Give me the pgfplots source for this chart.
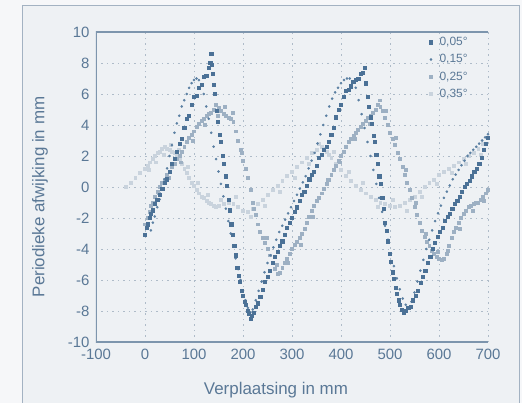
\documentclass[border=0pt]{standalone}
\usepackage{fontspec}
\setmainfont{Liberation Sans}
\usepackage{pgfplots}
\pgfplotsset{compat=1.18}
\definecolor{bgin}{HTML}{EEF1F4}
\definecolor{bgout}{HTML}{F6F7F9}
\definecolor{framec}{HTML}{A3B2C2}
\definecolor{axc}{HTML}{7D95AD}
\definecolor{txt}{HTML}{5A7896}
\definecolor{gridc}{HTML}{AEBBC8}
\definecolor{cA}{HTML}{4B7196}
\definecolor{cB}{HTML}{5A7FA2}
\definecolor{cC}{HTML}{9DB0C3}
\definecolor{cD}{HTML}{C9D3DD}
\begin{document}
\begin{tikzpicture}
\fill[bgout] (-96bp,-61bp) rectangle (426bp,342bp);
\path[use as bounding box] (-96bp,-61bp) rectangle (426bp,342bp);
\filldraw[fill=bgin, draw=framec, line width=1bp] (-73bp,-70bp) rectangle (423bp,336bp);
\begin{axis}[
  at={(0,0)}, anchor=south west, scale only axis,
  width=392bp, height=310bp,
  xmin=-100, xmax=700, ymin=-10, ymax=10,
  xtick={-100,0,...,700}, ytick={-10,-8,...,10},
  axis line style={draw=none},
  major tick length=0pt,
  grid=major,
  major grid style={gridc, line width=0.9bp, dash pattern=on 1.5bp off 4bp},
  tick label style={font=\fontsize{15}{18}\selectfont, text=txt},
  /pgf/number format/assume math mode=true,
  yticklabel style={xshift=-3bp},
  xticklabel style={yshift=-4bp},
  xlabel={Verplaatsing in mm},
  ylabel={Periodieke afwijking in mm},
  label style={font=\fontsize{17}{20}\selectfont, text=txt},
  xlabel style={at={(axis description cs:0.459,-0.155)}, anchor=center},
  ylabel style={at={(axis description cs:-0.143,0.468)}, anchor=center},
  legend style={at={(axis description cs:0.85,0.99)}, anchor=north west, draw=none, fill=none, font=\fontsize{12}{14}\selectfont, text=txt, row sep=3.5bp, column sep=5bp, inner sep=0pt},
  legend cell align=left,
  reverse legend,
  clip mode=global,
]
\addplot[only marks, mark=square*, mark size=1.5pt, color=cD] coordinates {
(-40,0.0)(-30,0.3)(-20,0.6)(-10,0.9)(0,1.2)(5,1.4)(10,1.6)(15,1.8)(20,2.0)(25,2.2)(30,2.3)(35,2.5)(40,2.6)(45,2.5)(50,2.4)(55,2.3)(60,2.2)(65,2.0)(70,1.8)(75,1.5)(80,1.2)(85,0.9)(90,0.6)(95,0.3)(100,0.1)(105,-0.2)(110,-0.4)(115,-0.6)(120,-0.7)(125,-0.9)(130,-1.0)(135,-1.1)(140,-1.2)(145,-1.3)(150,-1.2)(160,-1.1)(170,-1.0)(180,-1.1)(190,-1.3)(200,-1.5)(210,-1.6)(220,-1.4)(230,-1.1)(240,-0.8)(250,-0.5)(260,-0.2)(270,0.1)(280,0.4)(290,0.7)(300,1.0)(310,1.3)(320,1.6)(330,1.9)(340,2.2)(350,2.4)(360,2.6)(365,2.5)(370,2.3)(375,2.1)(380,1.9)(390,1.5)(400,1.1)(410,0.7)(420,0.4)(430,0.1)(440,-0.2)(450,-0.4)(460,-0.6)(470,-0.8)(480,-1.0)(490,-1.1)(500,-1.2)(510,-1.3)(520,-1.2)(530,-1.0)(540,-0.8)(550,-0.6)(560,-0.3)(570,0.0)(580,0.3)(590,0.5)(600,0.8)(610,1.0)(620,1.2)(630,1.4)(640,1.6)(650,1.8)(660,2.0)(670,2.2)(680,2.5)(690,2.8)(700,3.2)
(8,1.1)(22,1.6)(38,2.1)(52,2.7)(68,2.4)(88,1.3)(108,0.3)(128,-0.5)(155,-0.8)(185,-0.6)(215,-1.9)(245,-1.2)(275,-0.3)(305,0.6)(335,1.5)(355,2.8)(385,2.3)(415,1.0)(445,0.3)(475,-1.3)(505,-0.8)(535,-1.5)(565,-0.6)(595,0.2)(625,0.9)(655,1.5)(685,2.1)
};
\addlegendentry{0,35°}
\addplot[only marks, mark=square*, mark size=1.5pt, color=cC] coordinates {
(0,-2.4)(5,-2.0)(10,-1.6)(15,-1.0)(20,-0.6)(25,-0.3)(30,0.0)(35,0.3)(40,0.5)(45,0.8)(50,1.0)(55,1.3)(60,1.5)(65,1.8)(70,2.0)(75,2.3)(80,2.6)(85,2.9)(90,3.2)(95,3.4)(100,3.6)(105,3.9)(110,4.1)(115,4.3)(120,4.4)(125,4.6)(130,4.7)(135,4.8)(140,5.0)(145,5.3)(150,5.1)(155,4.9)(160,4.7)(165,4.6)(170,4.5)(175,4.4)(180,4.2)(185,3.6)(190,3.0)(195,2.4)(200,1.7)(205,1.2)(210,0.6)(215,-0.2)(220,-1.0)(225,-1.8)(230,-2.4)(235,-2.9)(240,-3.3)(245,-3.6)(250,-4.0)(255,-4.4)(260,-4.9)(265,-5.3)(270,-5.6)(275,-5.5)(280,-5.2)(285,-4.9)(290,-4.6)(295,-4.3)(300,-4.0)(305,-3.7)(310,-3.5)(315,-3.3)(320,-3.0)(325,-2.7)(330,-2.3)(335,-1.9)(340,-1.5)(345,-1.2)(350,-0.9)(355,-0.7)(360,-0.4)(365,-0.1)(370,0.2)(375,0.5)(380,0.8)(385,1.1)(390,1.4)(395,1.7)(400,2.0)(405,2.3)(410,2.6)(415,2.9)(420,3.1)(425,3.3)(430,3.5)(435,3.7)(440,3.9)(445,4.1)(450,4.3)(455,4.5)(460,4.6)(465,4.8)(470,5.0)(475,5.3)(480,5.2)(485,4.9)(490,4.5)(495,4.0)(500,3.5)(505,3.1)(510,2.7)(515,2.2)(520,1.8)(525,1.3)(530,0.8)(535,0.3)(540,-0.2)(545,-0.7)(550,-1.3)(555,-1.8)(560,-2.3)(565,-2.8)(570,-3.2)(575,-3.5)(580,-3.8)(585,-4.1)(590,-4.3)(595,-4.5)(600,-4.6)(605,-4.7)(610,-4.6)(615,-4.3)(620,-3.8)(625,-3.3)(630,-2.9)(635,-2.6)(640,-2.3)(645,-2.0)(650,-1.7)(655,-1.5)(660,-1.3)(665,-1.2)(670,-1.1)(675,-1.0)(680,-1.0)(685,-0.8)(690,-0.6)(695,-0.4)(700,-0.2)
(12,-1.2)(28,-0.4)(48,0.6)(72,1.6)(98,3.0)(122,4.0)(148,4.6)(162,5.2)(178,4.8)(198,2.2)(222,-1.4)(248,-3.3)(268,-5.0)(292,-4.9)(318,-3.7)(342,-1.9)(372,0.5)(398,1.6)(428,3.1)(458,4.1)(478,5.6)(492,4.9)(512,3.2)(532,1.1)(552,-1.0)(572,-3.0)(598,-4.2)(618,-4.1)(642,-2.7)(668,-1.5)(692,-0.9)
};
\addlegendentry{0,25°}
\addplot[only marks, mark=*, mark size=1.1pt, color=cB] coordinates {
(12,-2.8)(16,-2.3)(20,-1.9)(25,-1.3)(30,-0.8)(35,-0.1)(40,0.5)(45,1.2)(50,2.0)(55,2.7)(60,3.5)(65,4.1)(70,4.6)(75,5.2)(80,5.6)(85,6.0)(90,6.4)(95,6.7)(100,6.9)(105,7.0)(110,6.9)(115,6.6)(120,6.0)(125,5.2)(130,4.4)(135,3.5)(140,2.6)(145,1.8)(150,1.0)(155,0.2)(160,-0.6)(165,-1.4)(170,-2.2)(175,-3.0)(180,-3.8)(185,-4.6)(190,-5.3)(195,-6.0)(200,-6.7)(205,-7.3)(210,-7.8)(215,-8.1)(220,-7.9)(226,-7.3)(232,-6.7)(238,-6.1)(244,-5.5)(250,-4.9)(256,-4.4)(262,-3.9)(268,-3.4)(274,-2.9)(280,-2.5)(286,-2.1)(292,-1.7)(298,-1.3)(304,-0.9)(310,-0.5)(316,-0.1)(322,0.3)(328,0.7)(334,1.2)(340,1.7)(346,2.2)(352,2.8)(358,3.4)(364,4.0)(370,4.6)(376,5.2)(382,5.7)(388,6.1)(394,6.4)(400,6.7)(406,6.9)(412,7.0)(418,7.0)(424,6.8)(430,6.4)(436,5.6)(442,4.7)(448,3.8)(454,2.9)(460,2.0)(466,1.1)(472,0.2)(478,-0.7)(484,-1.6)(490,-2.5)(496,-3.4)(502,-4.3)(508,-5.1)(514,-5.9)(520,-6.6)(526,-7.2)(532,-7.6)(538,-7.8)(544,-7.4)(550,-6.8)(556,-6.1)(562,-5.4)(568,-4.7)(574,-4.0)(580,-3.4)(586,-2.8)(592,-2.2)(598,-1.7)(604,-1.2)(610,-0.7)(616,-0.3)(622,0.1)(628,0.5)(634,0.8)(640,1.1)(646,1.4)(652,1.7)(658,2.0)(664,2.2)(670,2.4)(676,2.6)(682,2.8)(688,3.0)(694,3.2)(700,3.4)
};
\addlegendentry{0,15°}
\addplot[only marks, mark=square*, mark size=1.6pt, color=cA] coordinates {
(0,-3.1)(3,-2.6)(6,-2.4)(9,-2.0)(12,-1.7)(16,-1.5)(20,-1.1)(25,-0.8)(30,-0.5)(35,-0.1)(40,0.3)(45,0.5)(50,1.0)(55,1.5)(60,1.8)(65,2.3)(70,2.8)(75,3.1)(80,3.8)(85,4.4)(90,4.6)(95,5.3)(100,5.8)(105,5.9)(110,6.4)(115,6.6)(120,7.1)(125,7.2)(130,7.7)(133,8.0)(135,8.6)(136,7.9)(138,7.3)(140,6.6)(143,6.0)(146,4.9)(149,4.2)(152,3.4)(155,2.9)(158,2.0)(161,1.5)(164,0.7)(167,0.1)(170,-0.8)(173,-1.5)(176,-2.4)(179,-3.1)(182,-3.8)(185,-4.4)(188,-5.2)(191,-5.7)(194,-6.1)(197,-6.7)(200,-7.0)(203,-7.4)(206,-7.6)(209,-8.0)(212,-8.2)(215,-8.5)(218,-8.3)(222,-8.1)(226,-7.7)(230,-7.5)(235,-7.1)(240,-6.6)(245,-6.1)(250,-5.8)(255,-5.4)(260,-4.9)(265,-4.5)(270,-4.2)(275,-3.8)(280,-3.5)(285,-3.1)(290,-2.6)(295,-2.3)(300,-2.0)(305,-1.6)(310,-1.3)(315,-0.9)(320,-0.5)(325,-0.3)(330,0.1)(335,0.5)(340,0.8)(345,1.0)(350,1.4)(355,1.9)(360,2.1)(365,2.4)(370,2.6)(375,2.9)(380,3.4)(385,3.8)(390,4.5)(395,5.0)(400,5.3)(405,5.8)(410,6.2)(415,6.3)(420,6.5)(425,6.8)(430,6.9)(435,7.0)(440,7.3)(445,7.4)(448,7.7)(451,6.7)(454,5.8)(457,5.2)(460,4.5)(463,4.1)(466,3.3)(469,2.9)(472,2.1)(475,1.5)(478,0.7)(481,0.2)(484,-0.7)(487,-1.4)(490,-2.3)(493,-2.8)(496,-3.5)(499,-4.3)(502,-4.8)(505,-5.5)(508,-5.9)(511,-6.5)(514,-6.9)(517,-7.3)(520,-7.6)(524,-7.9)(528,-8.1)(532,-8.0)(537,-7.8)(542,-7.7)(547,-7.3)(552,-7.0)(557,-6.7)(562,-6.2)(567,-5.8)(572,-5.4)(577,-4.9)(582,-4.5)(587,-4.0)(592,-3.6)(597,-3.2)(602,-2.9)(607,-2.6)(612,-2.2)(617,-1.9)(622,-1.7)(627,-1.4)(632,-1.1)(637,-0.9)(642,-0.6)(647,-0.3)(652,0.0)(657,0.2)(662,0.4)(667,0.7)(672,1.0)(677,1.2)(682,1.5)(687,1.9)(692,2.4)(696,2.8)(700,3.2)
};
\addlegendentry{0,05°}
\draw[axc, line width=1.3bp] (rel axis cs:1,1) -- (rel axis cs:0,1) -- (rel axis cs:0,0) -- (rel axis cs:1,0);
\end{axis}
\end{tikzpicture}
\end{document}
